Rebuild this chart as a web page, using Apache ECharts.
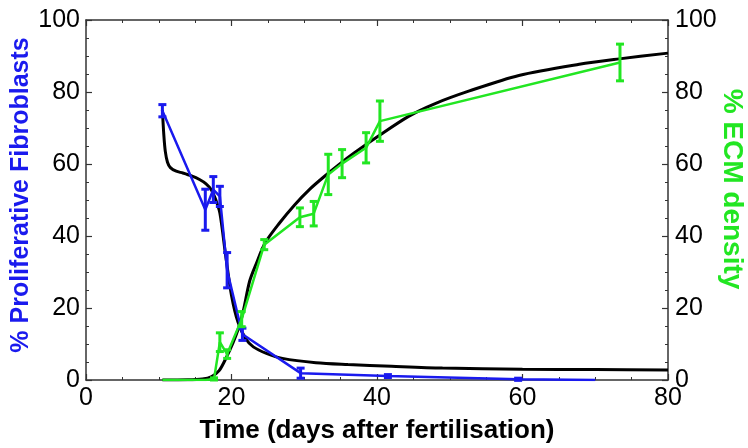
<!DOCTYPE html>
<html>
<head>
<meta charset="utf-8">
<script src="https://cdn.jsdelivr.net/npm/echarts@6/dist/echarts.min.js"></script>
<style>
  html, body { margin: 0; padding: 0; background: #fff; }
  #chart { width: 748px; height: 448px; }
</style>
</head>
<body>
<div id="chart"></div>
<script>
// Proliferative fibroblasts (measured, with standard error)
const fibroDays = [10.5, 16.4, 17.5, 18.4, 19.4, 21.5, 29.5, 41.5, 59.4, 70];
const fibroVals = [74.8, 47.3, 52.9, 51.0, 30.5, 12.7, 1.9, 1.1, 0.2, 0.0];
const fibroErr  = [1.7, 5.7, 3.6, 2.8, 4.9, 1.7, 1.4, 0.4, 0.3, 0];

// ECM density (measured, with standard error)
const ecmDays = [10.5, 16.4, 17.6, 18.4, 19.4, 21.4, 24.5, 29.4, 31.3, 33.3, 35.2, 38.5, 40.4, 73.4];
const ecmVals = [0, 0, 0.3, 10.5, 7.2, 16.9, 37.6, 45.2, 46.2, 57.1, 60.1, 64.5, 71.9, 88.2];
const ecmErr  = [0, 0, 0.3, 2.6, 1.2, 2.1, 1.4, 2.6, 3.4, 5.6, 3.9, 4.2, 5.6, 5.1];

// Model curves
const fibroModelDays = [10.5, 10.7, 10.9, 11.2, 11.6, 12.4, 13.3, 14.5, 15.6, 16.5, 17.2, 17.8, 18.4, 19.2, 20, 20.9, 22, 23, 24.8, 27, 31.6, 36, 42, 49, 60, 70, 80];
const fibroModelVals = [75, 68, 63.5, 60.5, 59, 58, 57.5, 56.7, 55.7, 54.5, 52.9, 50.3, 46.4, 34.5, 23.5, 16, 11.3, 9.2, 7.4, 6.0, 4.8, 4.3, 3.8, 3.3, 3.0, 2.9, 2.8];
const ecmModelDays = [10.5, 14, 16, 17.2, 18.3, 19.3, 20.2, 20.9, 21.6, 22.5, 23.4, 24.6, 26.6, 28.7, 30.7, 32.8, 34.8, 36.9, 40, 44.4, 48, 52.7, 59.5, 67.8, 73.3, 80];
const ecmModelVals = [0, 0.05, 0.3, 0.9, 2.6, 6.3, 10.3, 14, 19, 27.5, 32.3, 38, 43.6, 48.7, 52.9, 56.6, 59.9, 63.1, 67.5, 73.3, 76.8, 80.3, 84.6, 87.7, 89.2, 90.8];

// Axis ticks
const xTicks = { min: 0, max: 80, interval: 20 };
const yTicks = { min: 0, max: 100, interval: 20 };

const BLUE = '#1a1aee';
const GREEN = '#22e622';
const AXIS = '#333';

const zip = (xs, ys) => xs.map((x, i) => [x, ys[i]]);
const zip3 = (xs, ys, es) => xs.map((x, i) => [x, ys[i], es[i]]);

function errorBars(color) {
  return function (params, api) {
    const x = api.value(0), y = api.value(1), e = api.value(2);
    if (!e) return null;
    const top = api.coord([x, y + e]);
    const bot = api.coord([x, y - e]);
    const hw = 4;
    const style = { stroke: color, lineWidth: 3 };
    return {
      type: 'group',
      children: [
        { type: 'line', shape: { x1: top[0], y1: top[1], x2: bot[0], y2: bot[1] }, style },
        { type: 'line', shape: { x1: top[0] - hw, y1: top[1], x2: top[0] + hw, y2: top[1] }, style },
        { type: 'line', shape: { x1: bot[0] - hw, y1: bot[1], x2: bot[0] + hw, y2: bot[1] }, style }
      ]
    };
  };
}

const tickCommon = {
  nameMoveOverlap: false,
  axisLine: { show: true, onZero: false, lineStyle: { color: AXIS, width: 1.5 } },
  axisTick: { show: true, inside: true, length: 6, lineStyle: { color: AXIS, width: 1.2 } },
  minorTick: { show: true, splitNumber: 4, length: 3, lineStyle: { color: AXIS, width: 1 } },
  splitLine: { show: false },
  minorSplitLine: { show: false }
};
const labelFont = { fontFamily: 'Liberation Sans, Arial, sans-serif', fontSize: 25, color: '#000' };
const nameFont = { fontFamily: 'Liberation Sans, Arial, sans-serif', fontWeight: 'bold', fontSize: 25 };

const chart = echarts.init(document.getElementById('chart'), null, { renderer: 'canvas' });
chart.setOption({
  animation: false,
  backgroundColor: '#fff',
  grid: { left: 86, right: 80, top: 20, bottom: 68, containLabel: false, outerBoundsMode: 'none' },
  xAxis: [
    Object.assign({
      type: 'value', position: 'bottom', min: xTicks.min, max: xTicks.max, interval: xTicks.interval,
      axisLabel: Object.assign({ margin: 6 }, labelFont),
      name: 'Time (days after fertilisation)', nameLocation: 'middle', nameGap: 38,
      nameTextStyle: { color: '#000', fontSize: 26, fontFamily: nameFont.fontFamily, fontWeight: 'bold' }
    }, tickCommon),
    Object.assign({
      type: 'value', position: 'top', min: xTicks.min, max: xTicks.max, interval: xTicks.interval,
      axisLabel: { show: false }
    }, tickCommon)
  ],
  yAxis: [
    Object.assign({
      type: 'value', position: 'left', min: yTicks.min, max: yTicks.max, interval: yTicks.interval,
      axisLabel: Object.assign({ margin: 6 }, labelFont),
      name: '% Proliferative Fibroblasts', nameLocation: 'middle', nameGap: 52,
      nameTextStyle: Object.assign({ color: BLUE, padding: [0, 0, 0, 10] }, nameFont)
    }, tickCommon),
    Object.assign({
      type: 'value', position: 'right', min: yTicks.min, max: yTicks.max, interval: yTicks.interval,
      axisLabel: Object.assign({ margin: 7 }, labelFont),
      name: '% ECM density', nameLocation: 'middle', nameGap: 50, nameRotate: -90,
      nameTextStyle: Object.assign({ color: GREEN, padding: [0, 22, 0, 0] }, nameFont, { fontSize: 28 })
    }, tickCommon)
  ],
  series: [
    {
      name: 'Fibroblast model', type: 'line', xAxisIndex: 0, yAxisIndex: 0,
      data: zip(fibroModelDays, fibroModelVals), showSymbol: false, smooth: 0.3,
      lineStyle: { color: '#000', width: 3 }, z: 2
    },
    {
      name: 'ECM model', type: 'line', xAxisIndex: 0, yAxisIndex: 1,
      data: zip(ecmModelDays, ecmModelVals), showSymbol: false, smooth: 0.3,
      lineStyle: { color: '#000', width: 3 }, z: 2
    },
    {
      name: 'Proliferative fibroblasts', type: 'line', xAxisIndex: 0, yAxisIndex: 0,
      data: zip(fibroDays, fibroVals), showSymbol: false,
      lineStyle: { color: BLUE, width: 2.5 }, z: 3
    },
    {
      name: 'Fibroblast error', type: 'custom', xAxisIndex: 0, yAxisIndex: 0,
      data: zip3(fibroDays, fibroVals, fibroErr), renderItem: errorBars(BLUE), z: 4
    },
    {
      name: 'ECM density', type: 'line', xAxisIndex: 0, yAxisIndex: 1,
      data: zip(ecmDays, ecmVals), showSymbol: false,
      lineStyle: { color: GREEN, width: 2.5 }, z: 3
    },
    {
      name: 'ECM error', type: 'custom', xAxisIndex: 0, yAxisIndex: 1,
      data: zip3(ecmDays, ecmVals, ecmErr), renderItem: errorBars(GREEN), z: 4
    }
  ]
});
</script>
</body>
</html>
